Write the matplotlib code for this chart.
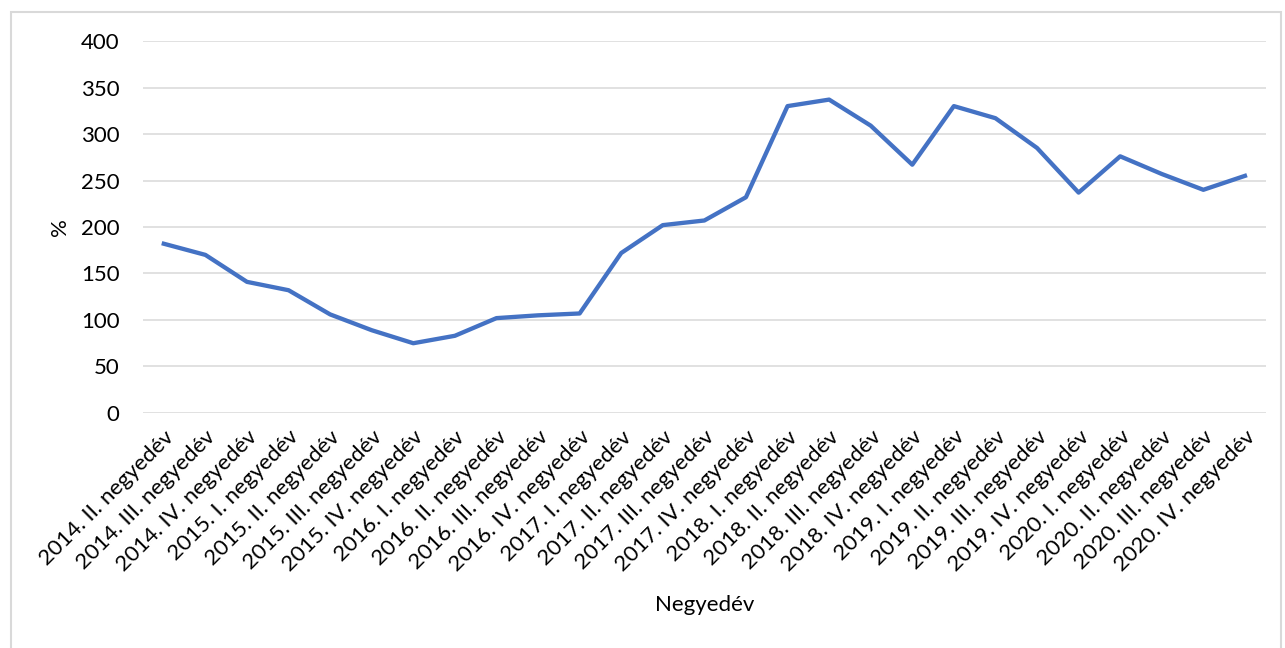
import matplotlib.pyplot as plt
from matplotlib.patches import Rectangle

# quarterly index values (%)
quarters = [
    "2014. II. negyedév", "2014. III. negyedév", "2014. IV. negyedév",
    "2015. I. negyedév", "2015. II. negyedév", "2015. III. negyedév", "2015. IV. negyedév",
    "2016. I. negyedév", "2016. II. negyedév", "2016. III. negyedév", "2016. IV. negyedév",
    "2017. I. negyedév", "2017. II. negyedév", "2017. III. negyedév", "2017. IV. negyedév",
    "2018. I. negyedév", "2018. II. negyedév", "2018. III. negyedév", "2018. IV. negyedév",
    "2019. I. negyedév", "2019. II. negyedév", "2019. III. negyedév", "2019. IV. negyedév",
    "2020. I. negyedév", "2020. II. negyedév", "2020. III. negyedév", "2020. IV. negyedév",
]
values = [182, 170, 141, 132, 106, 89, 75,
          83, 102, 105, 107,
          172, 202, 207, 232,
          330, 337, 309, 267,
          330, 317, 285, 237,
          276, 257, 240, 255]
yticks = [0, 50, 100, 150, 200, 250, 300, 350, 400]

plt.rcParams['font.family'] = ['Lato', 'DejaVu Sans']

fig = plt.figure(figsize=(12.85, 6.48), dpi=100)
ax = fig.add_axes([0.1113, 0.3627, 0.8737, 0.574])

x = list(range(len(quarters)))
ax.plot(x, values, color='#4472C4', linewidth=3.1, solid_joinstyle='round', zorder=3)

ax.set_xlim(-0.5, len(quarters) - 0.5)
ax.set_ylim(0, 400)
ax.set_yticks(yticks)
ax.set_yticklabels([str(v) for v in yticks], fontsize=16)
ax.set_xticks(x)
ax.set_xticklabels(quarters, rotation=45, ha='right', rotation_mode='anchor', fontsize=16)
ax.tick_params(axis='both', length=0)
ax.tick_params(axis='y', pad=17)
ax.tick_params(axis='x', pad=10)

ax.grid(axis='y', color='#D9D9D9', linewidth=1.1)
ax.set_axisbelow(True)
for s in ax.spines.values():
    s.set_visible(False)

ax.set_ylabel('%', fontsize=16, labelpad=8)
ax.set_xlabel('Negyedév', fontsize=16, labelpad=14)

# chart area border
fig.patches.append(Rectangle((11 / 1285, -0.05), 1270 / 1285, 1.05 - 12 / 648,
                             transform=fig.transFigure, fill=False,
                             edgecolor='#D9D9D9', linewidth=1.5))

fig.savefig('out.png', dpi=100)
